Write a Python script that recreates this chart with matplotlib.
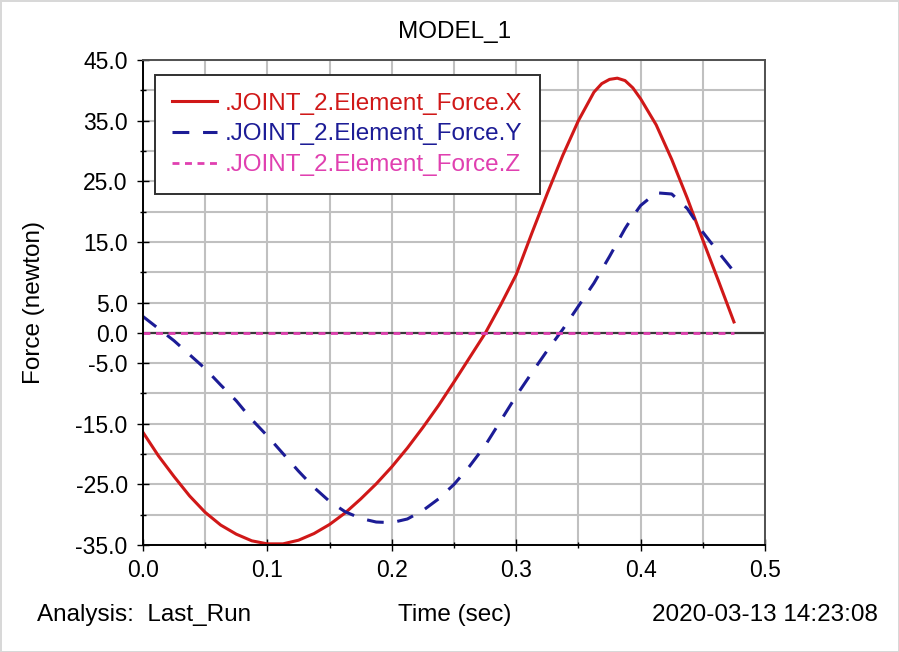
import matplotlib
matplotlib.use("Agg")
import matplotlib.pyplot as plt
from matplotlib.ticker import FixedLocator

plt.rcParams['font.family'] = ['Liberation Sans', 'DejaVu Sans']
plt.rcParams['axes.unicode_minus'] = False

# time axis (sec)
time = [0.0, 0.0125, 0.025, 0.0375, 0.05, 0.0625, 0.075, 0.0875, 0.1, 0.1125,
        0.125, 0.1375, 0.15, 0.1625, 0.175, 0.1875, 0.2, 0.2125, 0.225, 0.2375,
        0.25, 0.2625, 0.275, 0.2875, 0.3, 0.3125, 0.325, 0.3375, 0.35, 0.3625,
        0.36875, 0.375, 0.38125, 0.3875, 0.39375, 0.4, 0.4125, 0.425, 0.4375,
        0.45, 0.4625, 0.475]

force_x = [-16.4, -20.3, -23.7, -26.9, -29.6, -31.7, -33.2, -34.3, -34.8, -34.8,
           -34.2, -33.1, -31.6, -29.7, -27.4, -24.9, -22.1, -19.0, -15.6, -12.0,
           -8.1, -4.1, -0.1, 4.6, 9.6, 16.4, 23.0, 29.3, 35.0, 39.7,
           41.1, 41.8, 42.0, 41.6, 40.4, 38.6, 34.3, 28.6, 22.2,
           15.3, 8.6, 1.8]

force_y = [2.7, 0.7, -1.3, -3.6, -5.9, -8.6, -11.2, -14.3, -17.0, -19.9,
           -22.8, -25.5, -27.8, -29.5, -30.6, -31.2, -31.3, -30.7, -29.3, -27.4,
           -25.0, -22.0, -18.6, -14.5, -10.4, -6.6, -2.9, 0.6, 4.4, 8.2,
           10.4, 12.6, 14.9, 17.2, 19.2, 21.0, 23.1, 22.9, 20.5,
           16.6, 13.3, 10.1]

force_z = [0.0, 0.0, 0.0, 0.0, 0.0, 0.0, 0.0, 0.0, 0.0, 0.0,
           0.0, 0.0, 0.0, 0.0, 0.0, 0.0, 0.0, 0.0, 0.0, 0.0,
           0.0, 0.0, 0.0, 0.0, 0.0, 0.0, 0.0, 0.0, 0.0, 0.0,
           0.0, 0.0, 0.0, 0.0, 0.0, 0.0, 0.0, 0.0, 0.0,
           0.0, 0.0, 0.0]

y_ticks = [45.0, 35.0, 25.0, 15.0, 5.0, 0.0, -5.0, -15.0, -25.0, -35.0]
y_minor = [40.0, 30.0, 20.0, 10.0, -10.0, -20.0, -30.0]
x_ticks = [0.0, 0.1, 0.2, 0.3, 0.4, 0.5]
x_minor = [0.05, 0.15, 0.25, 0.35, 0.45]

fig = plt.figure(figsize=(8.99, 6.52), dpi=100)
ax = fig.add_axes([0.159, 0.164, 0.692, 0.744])

ax.set_xlim(0, 0.5)
ax.set_ylim(-35, 45)

ax.yaxis.set_major_locator(FixedLocator(y_ticks))
ax.yaxis.set_minor_locator(FixedLocator(y_minor))
ax.xaxis.set_major_locator(FixedLocator(x_ticks))
ax.xaxis.set_minor_locator(FixedLocator(x_minor))
ax.set_yticklabels(['%.1f' % v for v in y_ticks])
ax.set_xticklabels(['%.1f' % v for v in x_ticks])

ax.grid(True, which='both', color='#c0c0c0', linewidth=1.5)
ax.set_axisbelow(True)
ax.axhline(0, color='#383838', linewidth=1.6, zorder=1.5)

ax.tick_params(which='both', direction='inout', labelsize=16.5, colors='black')
ax.tick_params(which='major', length=8, width=1)
ax.tick_params(which='minor', length=5, width=1)
ax.tick_params(axis='y', pad=7)
ax.tick_params(axis='x', pad=6)
for s in ['left', 'bottom']:
    ax.spines[s].set_color('black')
    ax.spines[s].set_linewidth(1.4)
for s in ['top', 'right']:
    ax.spines[s].set_color('#505050')
    ax.spines[s].set_linewidth(1.4)

ax.plot(time, force_x, color='#d01818', linewidth=2.2, linestyle='-',
        label='.JOINT_2.Element_Force.X')
ax.plot(time, force_y, color='#1c1c96', linewidth=2.2, linestyle=(0, (5.5, 4.5)),
        label='.JOINT_2.Element_Force.Y')
ax.plot(time, force_z, color='#e040b0', linewidth=2.0, linestyle=(0, (2.5, 2)),
        label='.JOINT_2.Element_Force.Z')

leg = ax.legend(loc='upper left', bbox_to_anchor=(0.019, 0.969), borderaxespad=0,
                prop={'size': 17.5}, labelcolor='linecolor', frameon=True, fancybox=False,
                framealpha=1, edgecolor='#303030', handlelength=1.85,
                handletextpad=0.3, labelspacing=0.36, borderpad=0.72)
leg.get_frame().set_linewidth(1.4)

fig.text(0.506, 0.951, 'MODEL_1', ha='center', va='center', fontsize=17.5)
ax.set_ylabel('Force (newton)', fontsize=17.5)
ax.yaxis.set_label_coords(-0.157, 0.5)

fig.text(0.506, 0.057, 'Time (sec)', ha='center', va='center', fontsize=17.5)
fig.text(0.041, 0.057, 'Analysis:  Last_Run', ha='left', va='center', fontsize=17.5)
fig.text(0.976, 0.057, '2020-03-13 14:23:08', ha='right', va='center', fontsize=17.5)

fig.patch.set_edgecolor('#d8d8d8')
fig.patch.set_linewidth(2)

fig.savefig('out.png', dpi=100)
